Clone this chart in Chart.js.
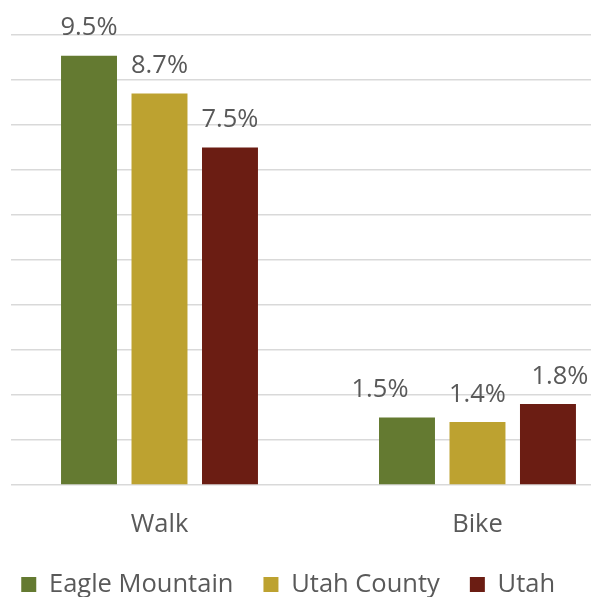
<!DOCTYPE html>
<html>
<head>
<meta charset="utf-8">
<script src="https://cdn.jsdelivr.net/npm/chart.js@4/dist/chart.umd.min.js"></script>
<style>
html,body{margin:0;padding:0;background:#fff;}
#wrap{width:591px;height:597px;position:relative;}
</style>
</head>
<body>
<div id="wrap"><canvas id="c" width="591" height="597"></canvas></div>
<script>
const categories = ['Walk', 'Bike'];
const seriesNames = ['Eagle Mountain', 'Utah County', 'Utah'];
const eagleMountain = [9.54, 1.5];
const utahCounty = [8.7, 1.4];
const utah = [7.5, 1.8];
const yTicks = [0, 1, 2, 3, 4, 5, 6, 7, 8, 9, 10];

const colors = ['#647A31', '#BDA230', '#6B1D13'];
const seriesValues = [eagleMountain, utahCounty, utah];
const FONT = '"Open Sans", "Noto Sans", sans-serif';
const FS = 25.5;
const TEXT = '#595959';

const valueLabels = {
  id: 'valueLabels',
  afterDatasetsDraw(chart, args, opts) {
    const ctx = chart.ctx;
    ctx.save();
    ctx.font = opts.size + 'px ' + FONT;
    ctx.fillStyle = TEXT;
    ctx.textAlign = 'center';
    ctx.textBaseline = 'alphabetic';
    chart.data.datasets.forEach((ds, di) => {
      const meta = chart.getDatasetMeta(di);
      meta.data.forEach((bar, i) => {
        const v = ds.data[i].y;
        const dx = (opts.shift[di] && opts.shift[di][i]) || 0;
        ctx.fillText(v.toFixed(1) + '%', bar.x + dx, bar.y - opts.gap);
      });
    });
    ctx.restore();
  }
};

new Chart(document.getElementById('c'), {
  type: 'bar',
  data: {
    datasets: seriesNames.map((name, si) => ({
      label: name,
      data: seriesValues[si].map((v, i) => ({ x: i, y: v })),
      backgroundColor: colors[si],
      borderWidth: 0,
      categoryPercentage: 0.665,
      barPercentage: 0.794
    }))
  },
  options: {
    responsive: false,
    animation: false,
    events: [],
    layout: { padding: { top: 35, left: -8.75, right: 0, bottom: -10.35 } },
    scales: {
      x: {
        type: 'linear',
        offset: false,
        min: -0.467,
        max: 1.357,
        grid: { display: false, drawTicks: false },
        border: { display: false },
        afterFit: (scale) => { scale.height = 56.85; },
        ticks: {
          stepSize: 1,
          includeBounds: false,
          autoSkip: false,
          maxRotation: 0,
          padding: 24.2,
          color: TEXT,
          font: { family: FONT, size: FS, lineHeight: 1.2 },
          callback: (v) => categories[v] !== undefined ? categories[v] : ''
        }
      },
      y: {
        min: yTicks[0],
        max: yTicks[yTicks.length - 1],
        afterBuildTicks: (scale) => { scale.ticks = yTicks.map(v => ({ value: v })); },
        grid: { color: '#D9D9D9', lineWidth: 1.5, drawTicks: true, tickLength: 19.75, tickColor: 'rgba(0,0,0,0)' },
        border: { display: false },
        ticks: { display: false }
      }
    },
    plugins: {
      legend: {
        position: 'bottom',
        align: 'start',
        labels: {
          boxWidth: 15,
          boxHeight: 15,
          padding: 30,
          color: TEXT,
          font: { family: FONT, size: FS }
        }
      },
      tooltip: { enabled: false },
      valueLabels: { size: FS, gap: 20.5, shift: [[0, -27], [0, 0], [0, 12]] }
    }
  },
  plugins: [valueLabels]
});
</script>
</body>
</html>
